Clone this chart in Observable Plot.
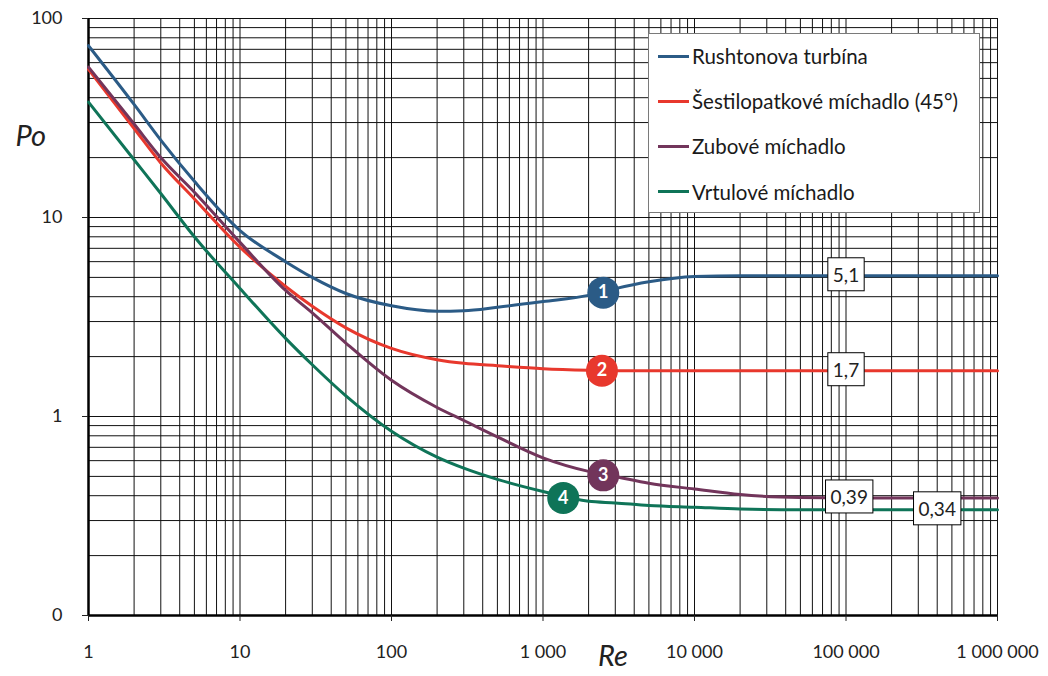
<!DOCTYPE html>
<html><head><meta charset="utf-8">
<script src="https://cdn.jsdelivr.net/npm/d3@7"></script>
<script src="https://cdn.jsdelivr.net/npm/@observablehq/plot@0.6"></script>
<style>
body{margin:0;background:#fff;font-family:Lato,"Open Sans",sans-serif;}
#wrap{position:relative;width:1048px;height:676px;}
#legend{position:absolute;left:648px;top:33px;width:332px;height:180px;background:#fff;border:1px solid #7a7a7a;box-sizing:border-box;}
.item{position:absolute;left:9px;height:24px;display:flex;align-items:center;font-size:20.5px;color:#1a1a1a;white-space:nowrap;}
.sw{display:inline-block;width:31px;height:3px;margin-right:3px;}
</style></head><body><div id="wrap"></div>
<script>
const series = ["Rushtonova turbína","Šestilopatkové míchadlo (45°)","Zubové míchadlo","Vrtulové míchadlo"];
const colors = ["#2b5b86","#e8382d","#72355b","#0f7458"];
const reValues = [1,2,3,5,10,20,30,50,100,200,300,500,1000,2000,3000,5000,10000,20000,50000,100000,1000000];
const poRushton = [73,37,24.5,15.2,8.6,6.0,5.0,4.15,3.6,3.38,3.4,3.54,3.78,4.06,4.39,4.75,5.05,5.1,5.1,5.1,5.1];
const poSestilopatkove = [55.5,28,18.8,12.4,7.1,4.5,3.58,2.79,2.2,1.93,1.85,1.8,1.74,1.71,1.7,1.7,1.7,1.7,1.7,1.7,1.7];
const poZubove = [57,29.5,20,13.4,7.5,4.3,3.32,2.34,1.52,1.11,0.955,0.79,0.62,0.53,0.5,0.462,0.432,0.405,0.392,0.39,0.39];
const poVrtulove = [38,19.5,13.2,8.0,4.4,2.47,1.82,1.27,0.843,0.625,0.55,0.483,0.42,0.375,0.368,0.357,0.35,0.343,0.34,0.34,0.34];

const markerLabels = ["1","2","3","4"];
const markerRe = [2500,2450,2500,1360];
const markerPo = [4.19,1.7,0.506,0.39];

const valueTexts = ["5,1","1,7","0,39","0,34"];
const valueRe = [100000,100000,105000,400000];
const valuePo = [5.1,1.7,0.39,0.34];

const xTicks = [1,10,100,1000,10000,100000,1000000];
const xTickLabels = ["1","10","100","1 000","10 000","100 000","1 000 000"];
const yTicks = [0.1,1,10,100];
const yTickLabels = ["0","1","10","100"];

const allPo = [poRushton,poSestilopatkove,poZubove,poVrtulove];
const rows = [];
series.forEach((s,k)=>reValues.forEach((re,i)=>rows.push({series:s,re,po:allPo[k][i]})));
const markers = markerLabels.map((l,i)=>({label:l,series:series[i],re:markerRe[i],po:markerPo[i]}));
const values = valueTexts.map((t,i)=>({text:t,re:valueRe[i],po:valuePo[i]}));

const xGrid = [];
for (let e=0;e<6;e++) for (let m=1;m<10;m++) xGrid.push(m*Math.pow(10,e));
xGrid.push(1e6);
const yGrid = [];
for (let e=-1;e<2;e++) for (let m=1;m<10;m++) yGrid.push(+(m*Math.pow(10,e)).toPrecision(3));
yGrid.push(100);

const xLab = new Map(xTicks.map((t,i)=>[t,xTickLabels[i]]));
const yLab = new Map(yTicks.map((t,i)=>[t,yTickLabels[i]]));

const plot = Plot.plot({
  width:1048, height:676,
  marginLeft:88, marginTop:18, marginRight:51, marginBottom:61,
  x:{type:"log", domain:[1,1e6]},
  y:{type:"log", domain:[0.1,100]},
  color:{domain:series, range:colors},
  style:{fontFamily:"Lato, 'Open Sans', sans-serif", background:"#fff", color:"#222"},
  marks:[
    Plot.ruleX(xGrid,{stroke:"#111",strokeWidth:1}),
    Plot.ruleY(yGrid,{stroke:"#111",strokeWidth:1}),
    Plot.ruleX([1],{stroke:"#000",strokeWidth:2.5}),
    Plot.ruleY([0.1],{stroke:"#000",strokeWidth:2.5}),
    Plot.axisX(xTicks,{tickFormat:d=>xLab.get(d),tickSize:6,tickPadding:24,fontSize:18,label:null,fill:"#222"}),
    Plot.axisY(yTicks,{tickFormat:d=>yLab.get(d),tickSize:6,tickPadding:20,fontSize:18,label:null,fill:"#222"}),
    Plot.line(rows,{x:"re",y:"po",z:"series",stroke:"series",strokeWidth:3,curve:"monotone-x"}),
    Plot.dot(markers,{x:"re",y:"po",r:16,fill:"series",stroke:null}),
    Plot.text(markers,{x:"re",y:"po",text:"label",fill:"#fff",fontWeight:"bold",fontSize:18}),
    Plot.text(values,{x:"re",y:"po",text:"text",fill:"#222",fontSize:19}),
    Plot.text(["Po"],{frameAnchor:"top-left",dx:-73,dy:107,textAnchor:"start",fontSize:29,fontStyle:"italic",fill:"#222"}),
    Plot.text(["Re"],{frameAnchor:"bottom",dx:70,dy:50,fontSize:29,fontStyle:"italic",fill:"#222"})
  ]
});
const wrap = document.getElementById("wrap");
wrap.appendChild(plot);

// boxes behind value labels
const valueSet = new Set(valueTexts);
d3.select(plot).selectAll("text").filter(function(){return valueSet.has(this.textContent);}).each(function(){
  const b = this.getBBox();
  const r = d3.select(this.parentNode).insert("rect",()=>this)
    .attr("x",b.x-5).attr("y",b.y-5).attr("width",b.width+10).attr("height",b.height+10)
    .attr("fill","#fff").attr("stroke","#000").attr("stroke-width",1);
  const tr = this.getAttribute("transform");
  if (tr) r.attr("transform",tr);
});

// legend
const legend = document.createElement("div");
legend.id = "legend";
series.forEach((s,i)=>{
  const it = document.createElement("div");
  it.className = "item";
  it.style.top = (10 + i*45.2) + "px";
  const sw = document.createElement("span");
  sw.className = "sw"; sw.style.background = colors[i];
  const tx = document.createElement("span");
  tx.textContent = s;
  it.appendChild(sw); it.appendChild(tx);
  legend.appendChild(it);
});
wrap.appendChild(legend);
</script></body></html>
